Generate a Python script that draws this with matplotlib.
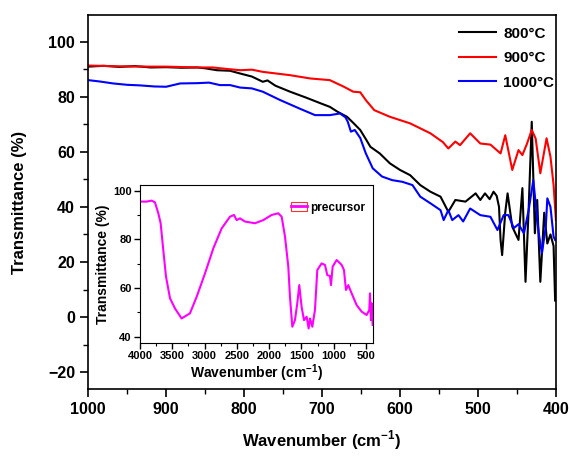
import matplotlib
matplotlib.use("Agg")
import matplotlib.pyplot as plt
from matplotlib.ticker import MultipleLocator
from matplotlib.patches import Patch
from matplotlib.lines import Line2D
import numpy as np

plt.rcParams['font.family'] = ['Liberation Sans', 'DejaVu Sans']
plt.rcParams['font.weight'] = 'bold'
plt.rcParams['mathtext.fontset'] = 'custom'
plt.rcParams['mathtext.rm'] = 'Liberation Sans:bold'
plt.rcParams['mathtext.bf'] = 'Liberation Sans:bold'

# ---- data (wavenumber cm-1, transmittance %) ----
wn_800 = [1000, 980, 960, 940, 920, 900, 880, 860, 850, 835, 818, 805, 790, 776, 770, 760,
          741, 720, 702, 690, 680, 668, 660, 651, 643, 638, 626, 613, 600, 587, 574, 561,
          548, 538, 529, 516, 503, 497, 491, 485, 480, 476, 473, 471, 469, 465, 462, 456,
          448, 443, 439, 435, 431, 427, 424, 420, 415, 411, 407, 403, 401]
t_800 = [90.9, 91.2, 90.8, 91.1, 90.6, 90.7, 90.5, 90.6, 90.3, 89.6, 89.4, 88.4, 87.3, 85.4, 85.9, 84.0,
         81.8, 79.6, 77.6, 76.3, 74.5, 72.7, 70.5, 67.9, 64.2, 61.8, 59.4, 55.8, 53.4, 51.5, 47.9, 45.5,
         43.7, 38.2, 42.5, 41.9, 44.9, 42.5, 44.9, 42.8, 45.5, 44.0, 40.0, 28.0, 22.5, 38.0, 44.9, 32.8,
         28.0, 46.8, 12.8, 39.0, 70.9, 30.4, 42.5, 12.8, 37.9, 26.7, 30.0, 25.8, 6.0]

wn_900 = [1000, 960, 920, 900, 860, 840, 820, 805, 790, 776, 741, 715, 690, 672, 660, 651,
          644, 633, 613, 587, 561, 545, 538, 529, 523, 510, 497, 484, 471, 465, 456, 448,
          443, 437, 431, 426, 420, 412, 407, 403, 400]
t_900 = [91.3, 91.0, 90.9, 90.9, 90.6, 90.6, 90.0, 89.6, 89.8, 89.0, 87.8, 86.6, 86.0, 83.6, 81.8, 81.6,
         78.8, 75.1, 72.7, 70.3, 66.7, 63.5, 61.2, 63.7, 62.4, 66.7, 63.0, 62.6, 59.4, 66.0, 53.4, 60.6,
         58.8, 63.0, 67.9, 64.8, 52.2, 64.9, 58.2, 48.0, 35.2]

wn_1000 = [1000, 985, 968, 950, 934, 915, 900, 882, 860, 845, 831, 818, 805, 790, 776, 754,
           729, 709, 690, 677, 670, 667, 663, 658, 651, 644, 635, 623, 610, 597, 584, 574,
           561, 548, 544, 538, 533, 525, 519, 510, 497, 484, 475, 467, 461, 454, 448, 441,
           435, 429, 426, 422, 418, 413, 411, 407, 403, 401]
t_1000 = [86.0, 85.5, 84.8, 84.3, 84.1, 83.7, 83.6, 84.8, 84.9, 85.1, 84.2, 84.2, 83.3, 83.0, 81.8, 78.8,
          75.7, 73.3, 73.3, 73.9, 72.5, 70.9, 67.3, 67.9, 65.0, 59.5, 54.0, 51.0, 49.7, 49.1, 47.9, 43.7,
          41.3, 38.8, 35.2, 38.8, 35.2, 37.0, 34.7, 39.4, 37.0, 36.4, 31.6, 37.0, 37.0, 32.3, 33.7, 30.4,
          38.8, 49.7, 41.3, 30.4, 23.1, 32.8, 43.1, 40.0, 29.2, 28.0]

wn_pre = [4000, 3897, 3819, 3768, 3716, 3680, 3639, 3597, 3535, 3458, 3355, 3226, 3122, 2993,
          2864, 2735, 2606, 2544, 2503, 2451, 2374, 2219, 2090, 1961, 1858, 1806, 1754, 1703,
          1677, 1641, 1600, 1564, 1533, 1497, 1460, 1419, 1388, 1367, 1331, 1290, 1254, 1187,
          1135, 1099, 1058, 1042, 1016, 954, 877, 841, 810, 774, 722, 645, 567, 490, 449, 438,
          423, 408, 397]
t_pre = [95.5, 95.5, 95.9, 95.2, 90.7, 86.6, 75.6, 64.7, 55.8, 51.6, 47.5, 49.6, 56.4, 66.0,
         76.3, 84.5, 89.3, 90.0, 87.9, 88.6, 87.3, 86.6, 87.9, 90.0, 90.7, 89.3, 81.1, 68.8,
         56.4, 44.1, 46.8, 53.7, 61.2, 52.3, 46.8, 48.2, 43.4, 47.5, 44.1, 51.0, 67.4, 70.1,
         69.5, 65.3, 64.9, 61.2, 68.8, 71.5, 69.5, 67.4, 59.2, 61.2, 57.8, 53.0, 50.3, 48.9, 51.0, 57.8,
         46.8, 53.7, 44.8]

labels = ['800\u00b0C', '900\u00b0C', '1000\u00b0C']
colors = ['#000000', '#ff0000', '#0000ff']

fig = plt.figure(figsize=(5.69, 4.58), dpi=100)
ax = fig.add_axes([0.155, 0.1507, 0.822, 0.8163])

ax.plot(wn_800, t_800, color=colors[0], lw=1.5, label=labels[0])
ax.plot(wn_900, t_900, color=colors[1], lw=1.5, label=labels[1])
ax.plot(wn_1000, t_1000, color=colors[2], lw=1.5, label=labels[2])

ax.set_xlim(1000, 400)
ax.set_ylim(-26.1, 109.6)
ax.xaxis.set_major_locator(MultipleLocator(100))
ax.xaxis.set_minor_locator(MultipleLocator(50))
ax.yaxis.set_major_locator(MultipleLocator(20))
ax.yaxis.set_minor_locator(MultipleLocator(10))
ax.tick_params(which='major', direction='out', length=6, width=1.2, labelsize=11.5)
ax.tick_params(which='minor', direction='out', length=3.5, width=1.0)
for s in ax.spines.values():
    s.set_linewidth(1.2)
for lab in ax.get_xticklabels() + ax.get_yticklabels():
    lab.set_fontweight('bold')
ax.set_xlabel(r'Wavenumber (cm$^{-1}$)', fontsize=12, fontweight='bold', labelpad=8)
ax.set_ylabel('Transmittance (%)', fontsize=12, fontweight='bold', labelpad=15)

leg = ax.legend(loc='upper right', frameon=False, fontsize=11, handlelength=2.4,
                handletextpad=0.5, labelspacing=0.68, borderaxespad=0.0,
                bbox_to_anchor=(1.01, 0.985))
for t in leg.get_texts():
    t.set_fontweight('bold')

# ---- inset ----
ins = fig.add_axes([0.246, 0.251, 0.409, 0.345])
ins.plot(wn_pre, t_pre, color='#ff00ff', lw=1.5)
ins.set_xlim(4000, 396)
ins.set_ylim(37.4, 102.3)
ins.xaxis.set_major_locator(MultipleLocator(500))
ins.xaxis.set_minor_locator(MultipleLocator(250))
ins.yaxis.set_major_locator(MultipleLocator(20))
ins.yaxis.set_minor_locator(MultipleLocator(10))
ins.tick_params(which='major', direction='out', length=4, width=1.0, labelsize=8, pad=2)
ins.tick_params(which='minor', direction='out', length=2.5, width=0.8)
for lab in ins.get_xticklabels() + ins.get_yticklabels():
    lab.set_fontweight('bold')
ins.set_xlabel(r'Wavenumber (cm$^{-1}$)', fontsize=10, fontweight='bold', labelpad=1)
ins.set_ylabel('Transmittance (%)', fontsize=10, fontweight='bold', labelpad=2)
h = (Patch(facecolor='none', edgecolor='#ff3030', lw=0.8),
     Line2D([], [], color='#ff00ff', lw=2))
ileg = ins.legend([h], ['precursor'], loc='upper right', frameon=False, fontsize=8.5,
                  handlelength=1.4, handletextpad=0.3, borderaxespad=0.2,
                  bbox_to_anchor=(1.0, 0.94))
for t in ileg.get_texts():
    t.set_fontweight('bold')

fig.savefig('out.png', dpi=100)
